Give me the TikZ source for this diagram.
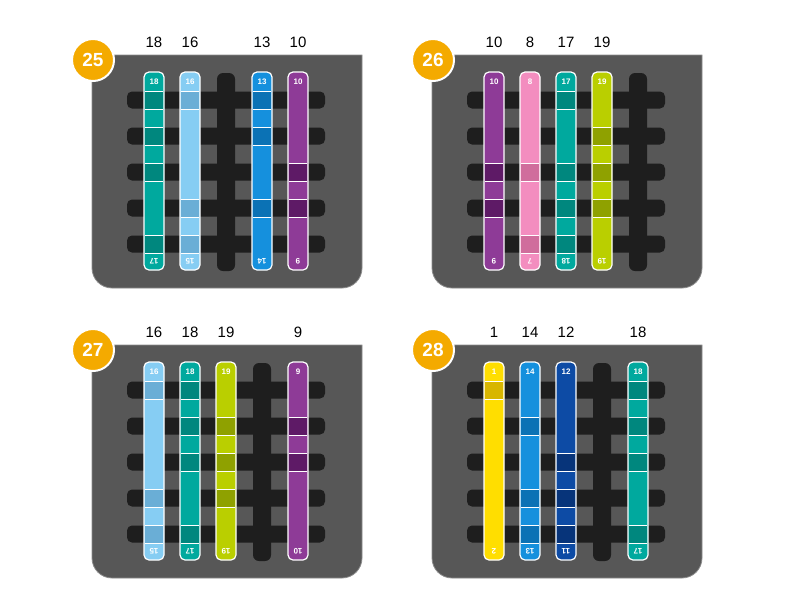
\documentclass[tikz,border=0pt]{standalone}
\usepackage{fontspec}
\setmainfont{Liberation Sans}
\usetikzlibrary{positioning}
\definecolor{panelgray}{HTML}{575757}
\definecolor{paneledge}{HTML}{8C8C8C}
\definecolor{barblack}{HTML}{1E1E1E}
\definecolor{badgeorange}{HTML}{F4AA00}
\definecolor{teal}{HTML}{00A99E}\definecolor{tealD}{HTML}{00877E}
\definecolor{sky}{HTML}{86CDF3}\definecolor{skyD}{HTML}{6AAED6}
\definecolor{azure}{HTML}{1590DD}\definecolor{azureD}{HTML}{0B72B5}
\definecolor{plum}{HTML}{8E3B97}\definecolor{plumD}{HTML}{5E1A66}
\definecolor{rose}{HTML}{F38DBF}\definecolor{roseD}{HTML}{D06D9C}
\definecolor{lime}{HTML}{BACF00}\definecolor{limeD}{HTML}{8FA100}
\definecolor{sun}{HTML}{FFDE00}\definecolor{sunD}{HTML}{D8B600}
\definecolor{navy}{HTML}{0D4BA5}\definecolor{navyD}{HTML}{07347A}
\tikzset{
  badge/.style={circle,fill=badgeorange,draw=white,line width=2pt,text=white,
    font=\fontsize{19}{19}\selectfont\bfseries,minimum size=42pt,inner sep=0pt},
  colnum/.style={font=\fontsize{15}{15}\selectfont,inner sep=0pt},
  striplbl/.style={text=white,font=\fontsize{8}{8}\selectfont\bfseries,inner sep=0pt}
}
% #1 panel, #2 column, #3 colour, #4 dark colour, #5 top, #6 bottom, #7 dark rows
\newcommand{\cardstrip}[7]{%
  \pgfmathsetmacro{\sx}{62+36*(#2-1)}
  \fill[#3,rounded corners=5pt] (\sx-10,17) rectangle (\sx+10,215);
  \foreach \r in {#7}{
    \fill[#4] (\sx-9,{36*\r}) rectangle (\sx+9,{36*\r+18});
    \draw[white,line width=1pt] (\sx-9,{36*\r}) -- (\sx+9,{36*\r})
      (\sx-9,{36*\r+18}) -- (\sx+9,{36*\r+18});
  }
  \draw[white,line width=1.2pt,rounded corners=5pt] (\sx-10,17) rectangle (\sx+10,215);
  \node[striplbl] (top#1#2) at (\sx,26.5) {#5};
  \node[striplbl,rotate=180] (bot#1#2) at (\sx,206.5) {#6};
  \node[colnum] (num#1#2) at (\sx,-13) {#5};
}
% #1 panel, #2 free column
\newcommand{\cardpanel}[2]{%
  \filldraw[fill=panelgray,draw=paneledge,line width=0.8pt] (0,0) -- (270,0) -- (270,100)
    [rounded corners=20pt] -- (270,233) -- (0,233) -- (0,100) [sharp corners] -- cycle;
  \foreach \r in {1,...,5}
    \fill[barblack,rounded corners=5pt] (35,{36*\r+0.5}) rectangle (233,{36*\r+17.5});
  \pgfmathsetmacro{\bx}{62+36*(#2-1)}
  \fill[barblack,rounded corners=6pt] (\bx-9,18) rectangle (\bx+9,216);
  \node[badge] (badge#1) at (1,5) {#1};
}

\begin{document}
\begin{tikzpicture}[x=1pt,y=-1pt]
  \useasboundingbox[fill=white] (0,0) rectangle (794,614);

  \begin{scope}[shift={(92,55)}]
    \cardpanel{25}{3}
    \cardstrip{25}{1}{teal}{tealD}{18}{17}{1,2,3,5}
    \cardstrip{25}{2}{sky}{skyD}{16}{15}{1,4,5}
    \cardstrip{25}{4}{azure}{azureD}{13}{14}{1,2,4}
    \cardstrip{25}{5}{plum}{plumD}{10}{9}{3,4}
  \end{scope}

  \begin{scope}[shift={(432,55)}]
    \cardpanel{26}{5}
    \cardstrip{26}{1}{plum}{plumD}{10}{9}{3,4}
    \cardstrip{26}{2}{rose}{roseD}{8}{7}{3,5}
    \cardstrip{26}{3}{teal}{tealD}{17}{18}{1,3,4,5}
    \cardstrip{26}{4}{lime}{limeD}{19}{19}{2,3,4}
  \end{scope}

  \begin{scope}[shift={(92,345)}]
    \cardpanel{27}{4}
    \cardstrip{27}{1}{sky}{skyD}{16}{15}{1,4,5}
    \cardstrip{27}{2}{teal}{tealD}{18}{17}{1,2,3,5}
    \cardstrip{27}{3}{lime}{limeD}{19}{19}{2,3,4}
    \cardstrip{27}{5}{plum}{plumD}{9}{10}{2,3}
  \end{scope}

  \begin{scope}[shift={(432,345)}]
    \cardpanel{28}{4}
    \cardstrip{28}{1}{sun}{sunD}{1}{2}{1}
    \cardstrip{28}{2}{azure}{azureD}{14}{13}{2,4,5}
    \cardstrip{28}{3}{navy}{navyD}{12}{11}{3,4,5}
    \cardstrip{28}{5}{teal}{tealD}{18}{17}{1,2,3,5}
  \end{scope}
\end{tikzpicture}
\end{document}
